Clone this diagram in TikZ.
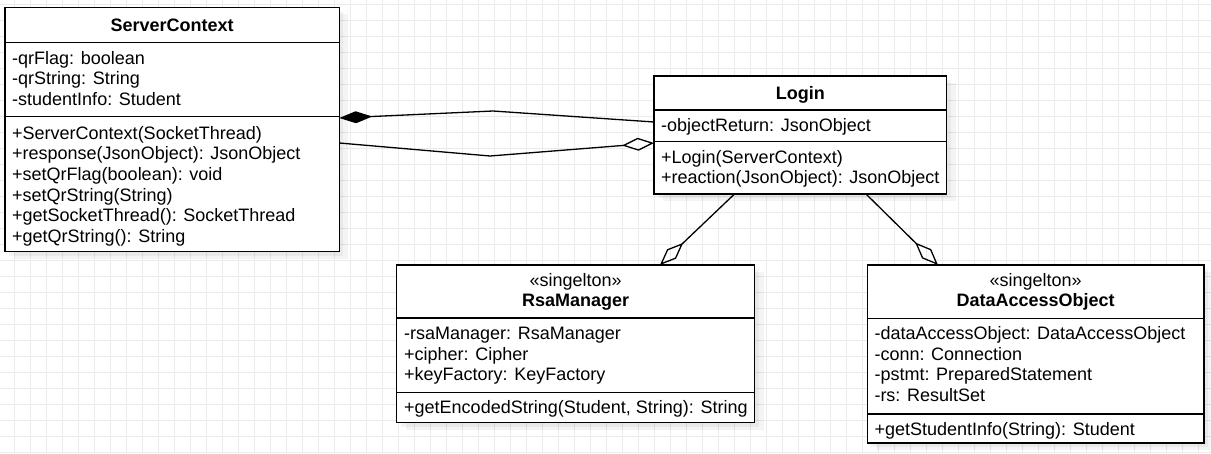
\documentclass[tikz,border=0pt]{standalone}
\usepackage{fontspec}
\setmainfont{Liberation Sans}
\usetikzlibrary{calc,arrows.meta}
\definecolor{gridc}{RGB}{235,235,235}
\begin{document}
\begin{tikzpicture}[x=1pt,y=-1pt,
  cls/.style={draw=black, line width=1.4pt, fill=white, rectangle, anchor=north west, inner sep=0pt, outer sep=0pt},
  row/.style={anchor=base west, inner sep=0pt, font=\fontsize{18}{21}\selectfont},
  hdr/.style={anchor=base, inner sep=0pt, font=\fontsize{18}{21}\selectfont\bfseries},
  stereo/.style={anchor=base, inner sep=0pt, font=\fontsize{18}{21}\selectfont},
  div/.style={line width=1.4pt},
  shad/.style={fill=black, opacity=0.045},
  conn/.style={line width=1.3pt, line join=round},
  comp/.style={-{Diamond[length=33pt,width=12pt]}},
  aggr/.style={-{Diamond[open,length=32pt,width=13pt]}}
]
\useasboundingbox (0,0) rectangle (1211,453);
\fill[white] (0,0) rectangle (1211,453);
% grid
\foreach \k in {0,...,74} \draw[gridc, line width=1pt] (14.5+16*\k,0) -- (14.5+16*\k,453);
\foreach \k in {0,...,28} \draw[gridc, line width=1pt] (0,4.3+16*\k) -- (1211,4.3+16*\k);

% shadows
\foreach \dx/\dy in {4/4,9/7} {
  \fill[shad] (5+\dx,7.3+\dy) rectangle (339.3+\dx,251.7+\dy);
  \fill[shad] (654+\dx,76+\dy) rectangle (946.7+\dx,194+\dy);
  \fill[shad] (396.7+\dx,265+\dy) rectangle (754.7+\dx,422.7+\dy);
  \fill[shad] (867.3+\dx,265+\dy) rectangle (1204+\dx,443.3+\dy);
}

% ServerContext
\node[cls, minimum width=334.3pt, minimum height=244.4pt] (sc) at (5,7.3) {};
\draw[div] ($(sc.north west)+(0,35.4)$) -- ($(sc.north east)+(0,35.4)$);
\draw[div] ($(sc.north west)+(0,109.4)$) -- ($(sc.north east)+(0,109.4)$);
\node[hdr] (scname) at (172.2,31.3) {ServerContext};
\node[row] (sca1) at (12,64) {-qrFlag: boolean};
\node[row] (sca2) at (12,84.7) {-qrString: String};
\node[row] (sca3) at (12,105.4) {-studentInfo: Student};
\node[row] (scm1) at (12,139) {+ServerContext(SocketThread)};
\node[row] (scm2) at (12,159.7) {+response(JsonObject): JsonObject};
\node[row] (scm3) at (12,180.4) {+setQrFlag(boolean): void};
\node[row] (scm4) at (12,201.1) {+setQrString(String)};
\node[row] (scm5) at (12,221.8) {+getSocketThread(): SocketThread};
\node[row] (scm6) at (12,242.5) {+getQrString(): String};

% Login
\node[cls, minimum width=292.7pt, minimum height=118pt] (login) at (654,76) {};
\draw[div] ($(login.north west)+(0,34)$) -- ($(login.north east)+(0,34)$);
\draw[div] ($(login.north west)+(0,65.7)$) -- ($(login.north east)+(0,65.7)$);
\node[hdr] (loginname) at (800.3,99.3) {Login};
\node[row] (logina1) at (661,131.5) {-objectReturn: JsonObject};
\node[row] (loginm1) at (661,163) {+Login(ServerContext)};
\node[row] (loginm2) at (661,183.7) {+reaction(JsonObject): JsonObject};

% RsaManager
\node[cls, minimum width=358pt, minimum height=157.7pt] (rsa) at (396.7,265) {};
\draw[div] ($(rsa.north west)+(0,53)$) -- ($(rsa.north east)+(0,53)$);
\draw[div] ($(rsa.north west)+(0,127.3)$) -- ($(rsa.north east)+(0,127.3)$);
\node[stereo] (rsast) at (575.7,286.7) {«singelton»};
\node[hdr] (rsaname) at (575.7,306.7) {RsaManager};
\node[row] (rsaa1) at (404,339.5) {-rsaManager: RsaManager};
\node[row] (rsaa2) at (404,360.2) {+cipher: Cipher};
\node[row] (rsaa3) at (404,380.9) {+keyFactory: KeyFactory};
\node[row] (rsam1) at (404,413.5) {+getEncodedString(Student, String): String};

% DataAccessObject
\node[cls, minimum width=336.7pt, minimum height=178pt] (dao) at (867.3,265) {};
\draw[div] ($(dao.north west)+(0,53.3)$) -- ($(dao.north east)+(0,53.3)$);
\draw[div] ($(dao.north west)+(0,149)$) -- ($(dao.north east)+(0,149)$);
\node[stereo] (daost) at (1035.7,286.7) {«singelton»};
\node[hdr] (daoname) at (1035.7,306.7) {DataAccessObject};
\node[row] (daoa1) at (874.3,339.5) {-dataAccessObject: DataAccessObject};
\node[row] (daoa2) at (874.3,360.2) {-conn: Connection};
\node[row] (daoa3) at (874.3,380.9) {-pstmt: PreparedStatement};
\node[row] (daoa4) at (874.3,401.6) {-rs: ResultSet};
\node[row] (daom1) at (874.3,435.5) {+getStudentInfo(String): Student};

% connectors
\coordinate (w1) at (493,111);
\coordinate (w2) at (490,156);
\draw[conn, comp] ($(login.north west)+(0,46)$) -- (w1) -- ($(sc.north east)+(0,110.7)$);
\draw[conn, aggr] ($(sc.north east)+(0,135.7)$) -- (w2) -- ($(login.north west)+(0,67)$);
\draw[conn, aggr] ($(login.south west)+(80.5,0)$) -- ($(rsa.north west)+(263.3,0)$);
\draw[conn, aggr] ($(login.south west)+(212,0)$) -- ($(dao.north west)+(70.7,0)$);
\end{tikzpicture}
\end{document}
